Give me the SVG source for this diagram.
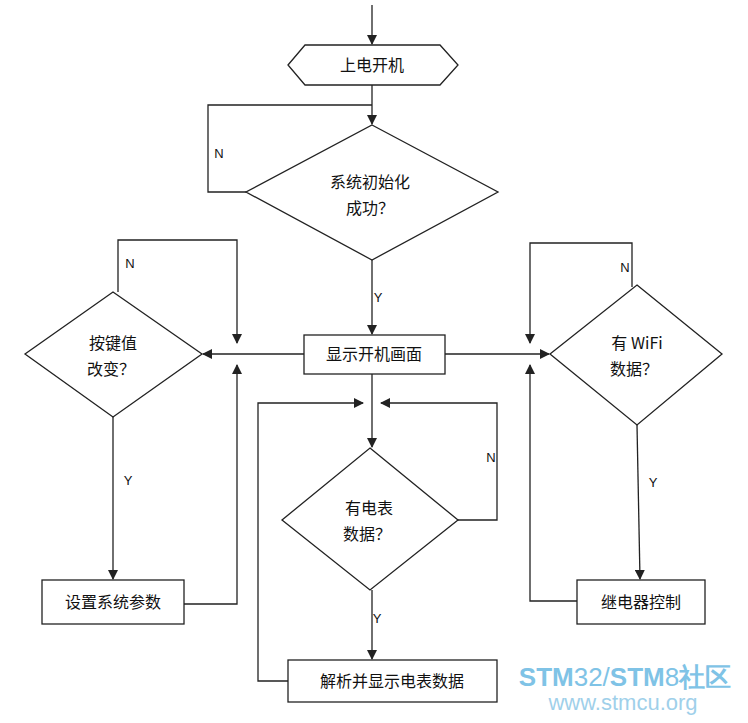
<svg xmlns="http://www.w3.org/2000/svg" width="748" height="723" viewBox="0 0 748 723">
<style>
.s{fill:#fff;stroke:#222;stroke-width:1.3}
.c{fill:none;stroke:#222;stroke-width:1.3}
text{font-family:"Noto Sans CJK SC","Liberation Sans",sans-serif;font-size:16px;fill:#111;text-anchor:middle}
.l{font-family:"Liberation Sans",sans-serif;font-size:13px}
</style>
<defs><marker id="a" markerWidth="10" markerHeight="10" refX="9" refY="5" orient="auto" markerUnits="userSpaceOnUse"><path d="M0,0L10,5L0,10z" fill="#222"/></marker></defs>
<rect width="748" height="723" fill="#fff"/>
<g id="connectors">
<path class="c" d="M372,5V44" marker-end="url(#a)"/>
<path class="c" d="M372,85V124" marker-end="url(#a)"/>
<path class="c" d="M246,192H208V105H372"/>
<path class="c" d="M372,260V334" marker-end="url(#a)"/>
<path class="c" d="M304,354H203" marker-end="url(#a)"/>
<path class="c" d="M445,354H549" marker-end="url(#a)"/>
<path class="c" d="M118,292V240H237V343" marker-end="url(#a)"/>
<path class="c" d="M113,417V579" marker-end="url(#a)"/>
<path class="c" d="M184,604H237V365" marker-end="url(#a)"/>
<path class="c" d="M632,287V243H530V343" marker-end="url(#a)"/>
<path class="c" d="M637,425L640,579" marker-end="url(#a)"/>
<path class="c" d="M577,601H530V365" marker-end="url(#a)"/>
<path class="c" d="M372,374V447" marker-end="url(#a)"/>
<path class="c" d="M458,520H497V403H381" marker-end="url(#a)"/>
<path class="c" d="M372,590V659" marker-end="url(#a)"/>
<path class="c" d="M288,681H258V403H363" marker-end="url(#a)"/>
<text class="l" x="219" y="158">N</text>
<text class="l" x="378" y="302">Y</text>
<text class="l" x="130" y="268">N</text>
<text class="l" x="128" y="485">Y</text>
<text class="l" x="625" y="272">N</text>
<text class="l" x="653" y="487">Y</text>
<text class="l" x="491" y="462">N</text>
<text class="l" x="377" y="623">Y</text>
</g>
<g id="start"><path class="s" d="M288,65L305,45H440L458,65L440,85H305z"/><text x="372" y="71">上电开机</text></g>
<g id="init"><path class="s" d="M372,125L498,192L372,260L246,192z"/><text x="370" y="188">系统初始化</text><text x="370" y="214">成功？</text></g>
<g id="show"><rect class="s" x="304" y="335" width="141" height="39"/><text x="374" y="360">显示开机画面</text></g>
<g id="key"><path class="s" d="M113,292L202,354L113,417L25,354z"/><text x="113" y="349">按键值</text><text x="111" y="375">改变？</text></g>
<g id="set"><rect class="s" x="42" y="580" width="142" height="44"/><text x="113" y="608">设置系统参数</text></g>
<g id="wifi"><path class="s" d="M637,285L722,354L637,425L550,354z"/><text x="637" y="349">有 WiFi</text><text x="634" y="375">数据？</text></g>
<g id="relay"><rect class="s" x="577" y="580" width="128" height="44"/><text x="641" y="608">继电器控制</text></g>
<g id="meter"><path class="s" d="M370,448L458,520L370,590L282,520z"/><text x="369" y="514">有电表</text><text x="367" y="540">数据？</text></g>
<g id="parse"><rect class="s" x="288" y="660" width="209" height="42"/><text x="392" y="687">解析并显示电表数据</text></g>
<g id="wm">
<text x="625" y="686" style="font-family:'Liberation Sans',sans-serif;font-size:26px;fill:#7fc3e6;font-weight:bold">STM<tspan font-weight="normal">32/</tspan>STM<tspan font-weight="normal">8</tspan>社区</text>
<text x="623" y="710" style="font-family:'Liberation Sans',sans-serif;font-size:22px;fill:#9fd0ea">www.stmcu.org</text>
</g>
</svg>
